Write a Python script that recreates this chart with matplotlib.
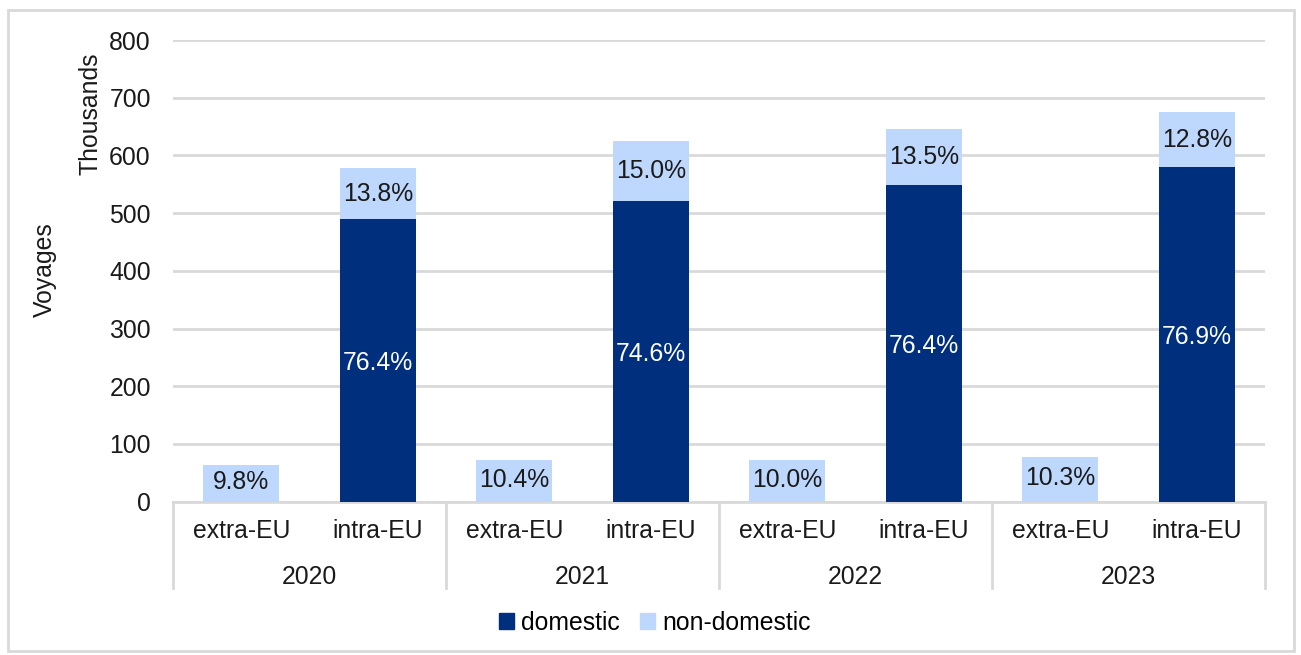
import matplotlib
matplotlib.use("Agg")
import matplotlib.pyplot as plt
import matplotlib.transforms as mtransforms
from matplotlib.patches import Rectangle, Patch

plt.rcParams['font.family'] = ['Liberation Sans', 'DejaVu Sans']

# voyages per year (thousands) and shares of the yearly total (%)
years = ["2020", "2021", "2022", "2023"]
flows = ["extra-EU", "intra-EU"]
year_totals = [641, 698, 718, 753]
extra_nondomestic_pct = [9.8, 10.4, 10.0, 10.3]
intra_domestic_pct = [76.4, 74.6, 76.4, 76.9]
intra_nondomestic_pct = [13.8, 15.0, 13.5, 12.8]

dark = '#002F7E'
light = '#BDD7FD'
grid_col = '#D9D9D9'
fs = 17.8

fig = plt.figure(figsize=(13.01, 6.55), dpi=100)
ax = fig.add_axes([173 / 1301, 1 - 501.6 / 655, (1265 - 173) / 1301, 461.6 / 655])

bw = 0.556
for i, tot in enumerate(year_totals):
    xe = 2 * i
    xi = 2 * i + 1
    ext = tot * extra_nondomestic_pct[i] / 100
    dom = tot * intra_domestic_pct[i] / 100
    non = tot * intra_nondomestic_pct[i] / 100
    ax.bar(xe, ext, bw, color=light, zorder=3)
    ax.bar(xi, dom, bw, color=dark, zorder=3)
    ax.bar(xi, non, bw, bottom=dom, color=light, zorder=3)
    ax.text(xe, ext / 2 + 2, f"{extra_nondomestic_pct[i]:.1f}%", ha='center', va='center',
            fontsize=fs, color='#1A1A1A', zorder=4)
    ax.text(xi, dom / 2 - 4, f"{intra_domestic_pct[i]:.1f}%", ha='center', va='center',
            fontsize=fs, color='white', zorder=4)
    ax.text(xi, dom + non / 2, f"{intra_nondomestic_pct[i]:.1f}%", ha='center', va='center',
            fontsize=fs, color='#1A1A1A', zorder=4)

ax.set_xlim(-0.5, 7.5)
ax.set_ylim(0, 800)
ax.set_yticks(range(0, 801, 100))
ax.tick_params(axis='y', length=0, pad=16, labelsize=fs, labelcolor='#1A1A1A')
ax.set_xticks([])
ax.yaxis.grid(True, color=grid_col, linewidth=2)
ax.set_axisbelow(True)
for s in ax.spines.values():
    s.set_visible(False)

# two-level category axis
trans = mtransforms.blended_transform_factory(ax.transData, ax.transAxes)
ybot = (501.6 - 588) / 461.6
ax.plot([-0.5, 7.5], [0, 0], color=grid_col, lw=2, transform=trans, clip_on=False, zorder=2)
for k in range(5):
    xs = 2 * k - 0.5
    ax.plot([xs, xs], [0, ybot], color=grid_col, lw=2, transform=trans, clip_on=False)
y_flow = (501.6 - 531) / 461.6
y_year = (501.6 - 577) / 461.6
for i, yr in enumerate(years):
    for j, fl in enumerate(flows):
        ax.text(2 * i + j, y_flow, fl, ha='center', va='center', fontsize=fs,
                color='#1A1A1A', transform=trans)
    ax.text(2 * i + 0.5, y_year, yr, ha='center', va='center', fontsize=fs,
            color='#1A1A1A', transform=trans)

fig.text(45 / 1301, 1 - 270 / 655, "Voyages", rotation=90, ha='center', va='center',
         fontsize=fs, color='#1A1A1A')
fig.text(91 / 1301, 1 - 114 / 655, "Thousands", rotation=90, ha='center', va='center',
         fontsize=fs, color='#1A1A1A')

handles = [Patch(color=dark, label='domestic'), Patch(color=light, label='non-domestic')]
fig.legend(handles=handles, loc='center', bbox_to_anchor=(655 / 1301, 1 - 623 / 655), ncol=2,
           frameon=False, fontsize=fs, handlelength=0.6, handleheight=0.6,
           handletextpad=0.3, columnspacing=0.8)

fig.patches.append(Rectangle((8 / 1301, 4 / 655), 1286 / 1301, 641 / 655,
                             transform=fig.transFigure, fill=False,
                             edgecolor=grid_col, linewidth=2))

fig.savefig("out.png", dpi=100)
